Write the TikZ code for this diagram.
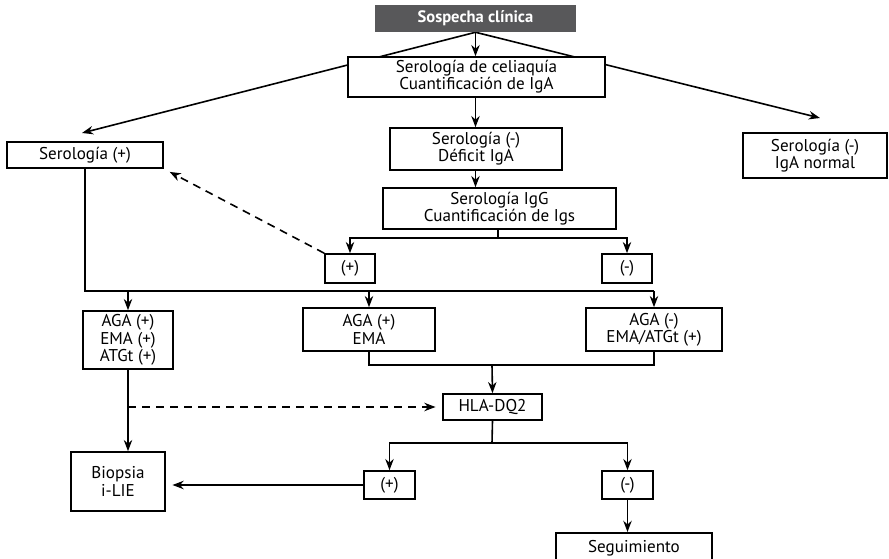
\documentclass[tikz,border=0pt]{standalone}
\usepackage{fontspec}
\setmainfont{PT Sans}
\usetikzlibrary{arrows.meta}
\usetikzlibrary{calc,positioning,backgrounds}

\definecolor{headgray}{HTML}{58585A}

\tikzset{
    box/.style={draw, very thick, fill=white, align=center, inner sep=1pt,
        font=\fontsize{12.8}{13}\selectfont},
    headbox/.style={fill=headgray, text=white, align=center,
        font=\fontsize{12.4}{13}\selectfont\bfseries},
    longdash/.style={dash pattern=on 6pt off 4.5pt},
}

\begin{document}
\begin{tikzpicture}[>=Stealth, x=0.75pt, y=-0.75pt]

    \useasboundingbox (0,0) rectangle (889,559);

    \node[headbox, minimum width=150.75pt, minimum height=20.25pt] (sosp) at (475.5,18.5) {Sospecha clínica};
    \node[box, minimum width=192.75pt, minimum height=30pt] (celiaq) at (476.5,77) {Serología de celiaquía\\Cuantificación de IgA};
    \node[box, minimum width=117pt, minimum height=19.5pt] (seropos) at (85,155) {Serología (+)};
    \node[box, minimum width=108pt, minimum height=33.75pt] (seroneg) at (815,155.5) {Serología (-)\\IgA normal};
    \node[box, minimum width=129pt, minimum height=31.5pt] (defic) at (476,149) {Serología (-)\\Déficit IgA};
    \node[box, minimum width=174.75pt, minimum height=30.75pt] (igg) at (499.5,208.5) {Serología IgG\\Cuantificación de Igs};
    \node[box, minimum width=37.5pt, minimum height=21.75pt] (iggpos) at (350,268.5) {(+)};
    \node[box, minimum width=37.5pt, minimum height=21.75pt] (iggneg) at (627,268.5) {(-)};

    \node[box, minimum width=67.5pt, minimum height=43.5pt] (agaall) at (128,340) {AGA (+)\\EMA (+)\\ATGt (+)};
    \node[box, minimum width=99pt, minimum height=32.25pt] (agaema) at (369,329.5) {AGA (+)\\EMA};
    \node[box, minimum width=102pt, minimum height=32.25pt] (aganeg) at (654,329.5) {AGA (-)\\EMA/ATGt (+)};

    \node[box, minimum width=74.25pt, minimum height=19.5pt] (hla) at (492.5,407) {HLA-DQ2};
    \node[box, minimum width=38.25pt, minimum height=21pt] (hlapos) at (389.5,485) {(+)};
    \node[box, minimum width=38.25pt, minimum height=21pt] (hlaneg) at (627.5,485) {(-)};
    \node[box, minimum width=70.5pt, minimum height=44.25pt] (biopsia) at (118,481.5) {Biopsia\\i-LIE};
    \node[box, anchor=north, minimum width=117pt, minimum height=30pt, text depth=10pt] (seguim) at (634,532) {Seguimiento};

    \coordinate (tipL) at (82,133);
    \coordinate (tipR) at (820,118);
    \coordinate (j1) at (498,238);
    \coordinate (j2) at (85,291);
    \coordinate (j3) at (492,365);
    \coordinate (j4) at (492,443);

    % first level
    \begin{pgfonlayer}{background}
        \draw[->, very thick] (sosp.south) -- (tipL);
        \draw[->, very thick] (sosp.south) -- (tipR);
    \end{pgfonlayer}
    \draw[->, very thick] (sosp.south) -- (sosp.south |- celiaq.north);
    \draw[->, very thick] (celiaq.south -| sosp.south) -- (defic.north -| sosp.south);
    \draw[->, very thick] (defic.south -| sosp.south) -- (igg.north -| sosp.south);

    % IgG
    \draw[very thick] (igg.south -| j1) -- (j1);
    \draw[->, very thick] (j1) -| (iggpos.north);
    \draw[->, very thick] (j1) -| (iggneg.north);
    \draw[->, very thick, longdash, shorten >=5pt] (iggpos.north west) -- (seropos.south east);

    % serologia (+)
    \draw[very thick] (seropos.south) -- (j2) -- (j2 -| aganeg.north);
    \draw[->, very thick] (j2 -| agaall.north) -- (agaall.north);
    \draw[->, very thick] (j2 -| agaema.north) -- (agaema.north);
    \draw[->, very thick] (j2 -| aganeg.north) -- (aganeg.north);

    % HLA
    \draw[very thick] (agaema.south) |- (aganeg.south |- j3) -- (aganeg.south);
    \draw[->, very thick] (j3) -- (hla.north);
    \draw[->, very thick] (agaall.south) -- (agaall.south |- biopsia.north);
    \draw[->, very thick, longdash, shorten >=5pt] (agaall.south |- hla.west) -- (hla.west);
    \draw[very thick] (hla.south) -- (j4);
    \draw[->, very thick] (j4) -| (hlapos.north);
    \draw[->, very thick] (j4) -| (hlaneg.north);
    \draw[->, very thick, shorten >=5pt] (hlapos.west) -- (hlapos.west -| biopsia.east);
    \draw[->, very thick] (hlaneg.south) -- (hlaneg.south |- seguim.north);

\end{tikzpicture}
\end{document}
